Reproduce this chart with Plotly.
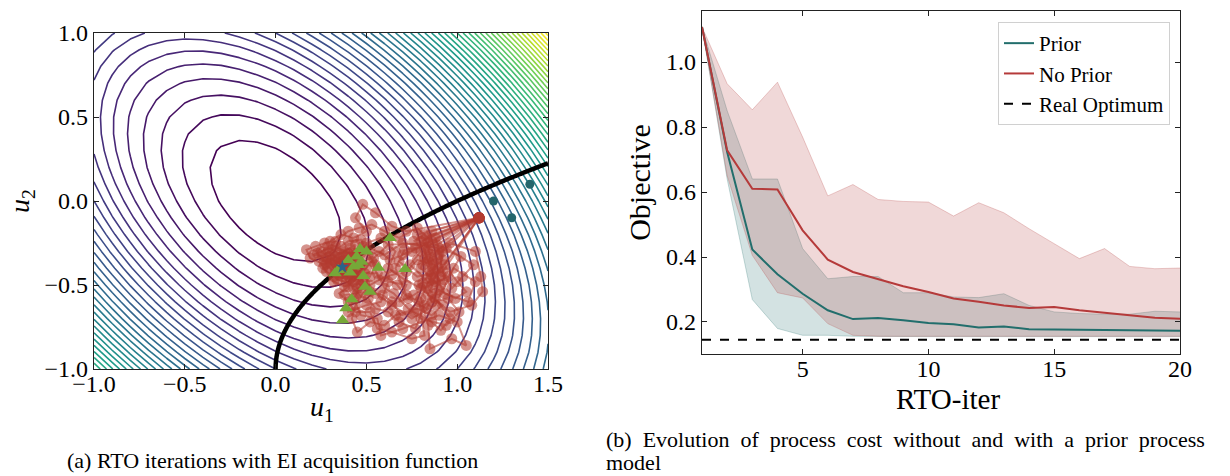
import numpy as np
import plotly.graph_objects as go

# ---------------- left panel: RTO test problem ----------------
U1_RANGE = [-1.0, 1.5]
U2_RANGE = [-1.0, 1.0]
U1_GRID = np.linspace(-1.0, 1.5, 26)
U2_GRID = np.linspace(-1.0, 1.0, 21)
U1_FINE = np.linspace(-1.0, 1.5, 251)
U2_FINE = np.linspace(-1.0, 1.0, 201)

# plant cost  phi(u) = a*u1^2 + b*u2^2 + c*u1*u2
COST_COEFFS = (1.0, 1.0, 1.0)
# plant constraint  g(u) = 1 - u1 + u2^2 + 2*u2 <= 0
CONSTRAINT_COEFFS = (1.0, -1.0, 1.0, 2.0)
LEVEL_START, LEVEL_END, LEVEL_STEP = 0.1, 4.7, 0.1

# RTO trajectories (u1, u2), one list per run
runs = [
    [(1.12, -0.10), (0.88, -0.22), (0.92, -0.35), (0.85, -0.42), (0.80, -0.30), (0.74, -0.38),
     (0.86, -0.50), (0.95, -0.45), (1.02, -0.33), (0.90, -0.28), (0.70, -0.25), (0.60, -0.32),
     (0.52, -0.28), (0.45, -0.33), (0.40, -0.36), (0.36, -0.40), (0.42, -0.42), (0.38, -0.38),
     (0.35, -0.37), (0.39, -0.40)],
    [(1.12, -0.10), (0.78, -0.20), (0.84, -0.36), (0.93, -0.55), (1.06, -0.60), (1.10, -0.48),
     (0.98, -0.40), (0.88, -0.62), (0.75, -0.70), (0.64, -0.62), (0.55, -0.55), (0.48, -0.48),
     (0.44, -0.40), (0.31, -0.35), (0.25, -0.30), (0.33, -0.27), (0.40, -0.31), (0.37, -0.39),
     (0.36, -0.41)],
    [(1.12, -0.10), (0.82, -0.28), (0.86, -0.44), (0.80, -0.58), (0.84, -0.74), (0.85, -0.88),
     (0.97, -0.82), (1.05, -0.86), (1.00, -0.72), (0.90, -0.68), (0.70, -0.76), (0.58, -0.80),
     (0.56, -0.70), (0.47, -0.68), (0.43, -0.58), (0.47, -0.50), (0.41, -0.46), (0.36, -0.43),
     (0.38, -0.39)],
    [(1.12, -0.10), (0.72, -0.18), (0.64, -0.15), (0.55, -0.07), (0.48, -0.02), (0.44, -0.10),
     (0.50, -0.18), (0.43, -0.22), (0.36, -0.20), (0.30, -0.24), (0.22, -0.27), (0.17, -0.29),
     (0.19, -0.34), (0.27, -0.38), (0.33, -0.33), (0.41, -0.28), (0.46, -0.36), (0.39, -0.37),
     (0.37, -0.38)],
    [(1.12, -0.10), (0.90, -0.32), (0.96, -0.25), (1.10, -0.30), (1.13, -0.45), (1.14, -0.54),
     (1.08, -0.62), (0.96, -0.66), (0.80, -0.52), (0.70, -0.46), (0.62, -0.40), (0.66, -0.30),
     (0.58, -0.22), (0.50, -0.25), (0.47, -0.31), (0.34, -0.31), (0.30, -0.37), (0.35, -0.44),
     (0.40, -0.43), (0.37, -0.40)],
    [(1.12, -0.10), (0.86, -0.18), (0.80, -0.40), (0.88, -0.48), (0.76, -0.56), (0.68, -0.60),
     (0.72, -0.50), (0.62, -0.48), (0.58, -0.60), (0.50, -0.62), (0.40, -0.66), (0.38, -0.56),
     (0.45, -0.55), (0.52, -0.45), (0.55, -0.38), (0.48, -0.27), (0.42, -0.33), (0.38, -0.35),
     (0.36, -0.38)],
    [(1.12, -0.10), (0.75, -0.30), (0.68, -0.36), (0.78, -0.45), (0.92, -0.42), (0.97, -0.52),
     (1.03, -0.45), (1.09, -0.38), (0.94, -0.28), (0.84, -0.25), (0.62, -0.26), (0.54, -0.34),
     (0.50, -0.40), (0.44, -0.47), (0.32, -0.45), (0.28, -0.42), (0.24, -0.36), (0.29, -0.30),
     (0.35, -0.35), (0.38, -0.40)],
    [(1.12, -0.10), (0.80, -0.24), (0.87, -0.30), (0.82, -0.34), (0.90, -0.40), (0.84, -0.56),
     (0.92, -0.62), (0.86, -0.68), (0.78, -0.64), (0.66, -0.68), (0.60, -0.74), (0.52, -0.72),
     (0.45, -0.78), (0.42, -0.70), (0.44, -0.62), (0.50, -0.52), (0.43, -0.44), (0.39, -0.42),
     (0.37, -0.39)],
    [(1.12, -0.10), (0.85, -0.33), (0.83, -0.46), (0.91, -0.50), (0.87, -0.38), (0.78, -0.35),
     (0.72, -0.42), (0.64, -0.44), (0.57, -0.47), (0.53, -0.36), (0.46, -0.40), (0.42, -0.36),
     (0.35, -0.39), (0.30, -0.33), (0.38, -0.30), (0.44, -0.26), (0.40, -0.41), (0.37, -0.36)],
    [(1.12, -0.10), (0.89, -0.26), (0.93, -0.47), (0.81, -0.49), (0.86, -0.60), (0.95, -0.58),
     (1.01, -0.66), (0.94, -0.74), (0.80, -0.70), (0.73, -0.64), (0.65, -0.55), (0.60, -0.52),
     (0.56, -0.43), (0.49, -0.43), (0.46, -0.45), (0.33, -0.39), (0.28, -0.34), (0.34, -0.42),
     (0.39, -0.38)],
    [(1.12, -0.10), (0.76, -0.24), (0.82, -0.20), (0.87, -0.42), (0.79, -0.50), (0.88, -0.55),
     (0.83, -0.64), (0.73, -0.58), (0.67, -0.50), (0.60, -0.45), (0.52, -0.50), (0.45, -0.52),
     (0.39, -0.48), (0.34, -0.47), (0.30, -0.40), (0.26, -0.33), (0.21, -0.32), (0.29, -0.28),
     (0.37, -0.32), (0.41, -0.38)],
    [(1.12, -0.10), (0.70, -0.32), (0.63, -0.35), (0.57, -0.30), (0.51, -0.32), (0.47, -0.23),
     (0.40, -0.24), (0.36, -0.27), (0.31, -0.29), (0.26, -0.40), (0.32, -0.48), (0.38, -0.51),
     (0.43, -0.48), (0.48, -0.38), (0.43, -0.31), (0.39, -0.33), (0.36, -0.36)],
    [(1.12, -0.10), (0.93, -0.38), (1.00, -0.48), (1.05, -0.54), (0.99, -0.58), (0.90, -0.53),
     (0.82, -0.62), (0.77, -0.76), (0.68, -0.72), (0.62, -0.66), (0.55, -0.64), (0.51, -0.58),
     (0.47, -0.57), (0.43, -0.52), (0.37, -0.45), (0.33, -0.42), (0.37, -0.41)],
    [(1.12, -0.10), (0.83, -0.22), (0.77, -0.28), (0.71, -0.29), (0.66, -0.40), (0.72, -0.56),
     (0.79, -0.60), (0.82, -0.80), (0.75, -0.82), (0.64, -0.78), (0.56, -0.76), (0.52, -0.66),
     (0.44, -0.66), (0.40, -0.60), (0.35, -0.55), (0.40, -0.51), (0.42, -0.45), (0.38, -0.42),
     (0.37, -0.40)],
    [(1.12, -0.10), (0.87, -0.46), (0.84, -0.52), (0.89, -0.34), (0.81, -0.38), (0.86, -0.24),
     (0.78, -0.16), (0.68, -0.22), (0.60, -0.18), (0.53, -0.14), (0.46, -0.16), (0.40, -0.18),
     (0.33, -0.24), (0.27, -0.25), (0.23, -0.31), (0.28, -0.37), (0.33, -0.36), (0.36, -0.39)],
    [(1.12, -0.10), (0.91, -0.44), (0.87, -0.36), (0.84, -0.29), (0.92, -0.30), (0.88, -0.58),
     (0.96, -0.70), (0.91, -0.77), (0.86, -0.72), (0.76, -0.66), (0.69, -0.68), (0.64, -0.60),
     (0.59, -0.56), (0.52, -0.54), (0.49, -0.49), (0.45, -0.43), (0.41, -0.40), (0.38, -0.41)],
]

# final operating points of the prior-informed runs
prior_u1 = [0.63, 0.465, 0.50, 0.446, 0.40, 0.474, 0.456, 0.41, 0.327, 0.566, 0.713,
            0.483, 0.492, 0.52, 0.419, 0.388, 0.369, 0.345, 0.43]
prior_u2 = [-0.22, -0.286, -0.30, -0.331, -0.351, -0.361, -0.381, -0.425, -0.43, -0.397, -0.405,
            -0.446, -0.51, -0.54, -0.585, -0.639, -0.71, -0.41, -0.39]

# initial samples
init_u1 = [1.2, 1.3, 1.4]
init_u2 = [0.0, -0.1, 0.1]

# plant optimum
opt_u1 = [0.368]
opt_u2 = [-0.393]

# ---------------- right panel: cost evolution ----------------
iters = list(range(1, 21))
prior_mean = [1.108, 0.723, 0.423, 0.347, 0.287, 0.236, 0.209, 0.212, 0.205, 0.197,
              0.193, 0.183, 0.186, 0.178, 0.177, 0.176, 0.175, 0.175, 0.175, 0.173]
prior_upper = [1.108, 0.85, 0.64, 0.64, 0.426, 0.333, 0.34, 0.34, 0.29, 0.29,
               0.277, 0.275, 0.287, 0.251, 0.231, 0.226, 0.224, 0.224, 0.233, 0.231]
prior_lower = [1.108, 0.64, 0.269, 0.18, 0.159, 0.159, 0.156, 0.155, 0.155, 0.155,
               0.155, 0.155, 0.155, 0.155, 0.155, 0.155, 0.155, 0.155, 0.155, 0.155]
noprior_mean = [1.108, 0.728, 0.61, 0.608, 0.482, 0.392, 0.354, 0.333, 0.31, 0.292,
                0.272, 0.262, 0.251, 0.243, 0.246, 0.236, 0.229, 0.221, 0.213, 0.21]
noprior_upper = [1.108, 0.933, 0.853, 0.938, 0.769, 0.588, 0.623, 0.577, 0.571, 0.569,
                 0.526, 0.567, 0.536, 0.487, 0.441, 0.395, 0.426, 0.371, 0.364, 0.366]
noprior_lower = [1.108, 0.65, 0.405, 0.29, 0.274, 0.195, 0.159, 0.156, 0.156, 0.156,
                 0.156, 0.156, 0.156, 0.156, 0.156, 0.156, 0.156, 0.156, 0.156, 0.156]
real_optimum = 0.1455

TEAL = "#226e6c"
RED = "#b53a3a"
FONT = "Liberation Serif"
W, H = 1230, 476

fig = go.Figure()

# cost contours
a, b, c = COST_COEFFS
G1, G2 = np.meshgrid(U1_GRID, U2_GRID)
cost = a * G1 ** 2 + b * G2 ** 2 + c * G1 * G2
fig.add_trace(go.Contour(
    x=U1_GRID, y=U2_GRID, z=cost, xaxis="x", yaxis="y",
    contours=dict(start=LEVEL_START, end=LEVEL_END, size=LEVEL_STEP, coloring="lines"),
    colorscale="Viridis", zmin=0.0, zmax=4.8, showscale=False,
    line=dict(width=1.6, smoothing=0), hoverinfo="skip", showlegend=False))

# constraint boundary g(u) = 0
k0, k1, k2, k3 = CONSTRAINT_COEFFS
F1, F2 = np.meshgrid(U1_FINE, U2_FINE)
g = k0 + k1 * F1 + k2 * F2 ** 2 + k3 * F2
fig.add_trace(go.Contour(
    x=U1_FINE, y=U2_FINE, z=g, xaxis="x", yaxis="y",
    contours=dict(start=0, end=0, size=1, coloring="lines"),
    colorscale=[[0, "black"], [1, "black"]], showscale=False,
    line=dict(width=4.5), hoverinfo="skip", showlegend=False))

# RTO runs
for run in runs:
    fig.add_trace(go.Scatter(
        x=[p[0] for p in run], y=[p[1] for p in run], xaxis="x", yaxis="y",
        mode="lines+markers",
        line=dict(color="rgba(178,58,48,0.55)", width=2),
        marker=dict(size=11, color="rgba(178,58,48,0.55)", line=dict(width=0)),
        showlegend=False))

fig.add_trace(go.Scatter(
    x=prior_u1, y=prior_u2, xaxis="x", yaxis="y", mode="markers",
    marker=dict(symbol="triangle-up", size=12, color="#76a838"), showlegend=False))
fig.add_trace(go.Scatter(
    x=init_u1, y=init_u2, xaxis="x", yaxis="y", mode="markers",
    marker=dict(size=9, color="#24666c"), showlegend=False))
fig.add_trace(go.Scatter(
    x=opt_u1, y=opt_u2, xaxis="x", yaxis="y", mode="markers",
    marker=dict(symbol="star", size=10, color="#2a6489"), showlegend=False))

# uncertainty bands
fig.add_trace(go.Scatter(x=iters, y=prior_lower, xaxis="x2", yaxis="y2", mode="lines",
                         line=dict(color="rgba(34,110,108,0.25)", width=1), showlegend=False))
fig.add_trace(go.Scatter(x=iters, y=prior_upper, xaxis="x2", yaxis="y2", mode="lines",
                         line=dict(color="rgba(34,110,108,0.25)", width=1),
                         fill="tonexty", fillcolor="rgba(34,110,108,0.2)", showlegend=False))
fig.add_trace(go.Scatter(x=iters, y=noprior_lower, xaxis="x2", yaxis="y2", mode="lines",
                         line=dict(color="rgba(181,58,58,0.25)", width=1), showlegend=False))
fig.add_trace(go.Scatter(x=iters, y=noprior_upper, xaxis="x2", yaxis="y2", mode="lines",
                         line=dict(color="rgba(181,58,58,0.25)", width=1),
                         fill="tonexty", fillcolor="rgba(181,58,58,0.2)", showlegend=False))

fig.add_trace(go.Scatter(x=iters, y=prior_mean, xaxis="x2", yaxis="y2", mode="lines",
                         name="Prior", line=dict(color=TEAL, width=2)))
fig.add_trace(go.Scatter(x=iters, y=noprior_mean, xaxis="x2", yaxis="y2", mode="lines",
                         name="No Prior", line=dict(color=RED, width=2)))
fig.add_trace(go.Scatter(x=[iters[0], iters[-1]], y=[real_optimum, real_optimum],
                         xaxis="x2", yaxis="y2", mode="lines", name="Real Optimum",
                         line=dict(color="black", width=2, dash="dash")))

axis_common = dict(showline=True, linecolor="#222", linewidth=1.3, mirror="allticks",
                   ticks="inside", ticklen=5, tickwidth=1, tickcolor="#222",
                   showgrid=False, zeroline=False, automargin=False,
                   tickfont=dict(family=FONT, size=24, color="black"))


def fmt(v):
    return f"{v:.1f}".replace("-", "\u2212")


u1_ticks = [-1.0, -0.5, 0.0, 0.5, 1.0, 1.5]
u2_ticks = [-1.0, -0.5, 0.0, 0.5, 1.0]
obj_ticks = [0.2, 0.4, 0.6, 0.8, 1.0]
iter_ticks = [5, 10, 15, 20]

caption_b = "(b) Evolution of process cost without and with a prior process".replace(" ", "\u00a0 ")


def note(text, x, y, size, xanchor="center"):
    return dict(text=text, xref="paper", yref="paper", x=x / W, y=1 - y / H,
                xanchor=xanchor, yanchor="middle", showarrow=False,
                font=dict(family=FONT, size=size, color="black"))


fig.update_layout(
    width=W, height=H, margin=dict(l=0, r=0, t=0, b=0, pad=0, autoexpand=False),
    paper_bgcolor="white", plot_bgcolor="white",
    font=dict(family=FONT, color="black"),
    xaxis=dict(domain=[94 / W, 548 / W], range=U1_RANGE, anchor="y",
               tickvals=u1_ticks, ticktext=[fmt(v) for v in u1_ticks],
               ticklabelstandoff=-7, **axis_common),
    yaxis=dict(domain=[1 - 369 / H, 1 - 33 / H], range=U2_RANGE, anchor="x",
               tickvals=u2_ticks, ticktext=[fmt(v) for v in u2_ticks],
               title=dict(text="<i>u</i><sub>2</sub>", font=dict(family=FONT, size=28), standoff=6),
               **axis_common),
    xaxis2=dict(domain=[702 / W, 1180 / W], range=[1, 20], anchor="y2",
                tickvals=iter_ticks, ticktext=[str(v) for v in iter_ticks],
                ticklabelstandoff=-7, **axis_common),
    yaxis2=dict(domain=[1 - 354 / H, 1 - 11 / H], range=[0.1015, 1.157], anchor="x2",
                tickvals=obj_ticks, ticktext=[fmt(v) for v in obj_ticks],
                title=dict(text="Objective", font=dict(family=FONT, size=30), standoff=6),
                **axis_common),
    legend=dict(x=1170 / W, y=1 - 22 / H, xanchor="right", yanchor="top",
                bgcolor="rgba(255,255,255,0.85)", bordercolor="#d0d0d0", borderwidth=1,
                font=dict(family=FONT, size=21), traceorder="normal"),
    annotations=[
        note("<i>u</i><sub>1</sub>", 322, 408, 28),
        note("RTO-iter", 948, 399, 29),
        note("(a) RTO iterations with EI acquisition function", 272, 460, 22),
        note(caption_b, 604, 439, 22, xanchor="left"),
        note("model", 604, 462, 22, xanchor="left"),
    ],
)

fig.write_html("out.html")
